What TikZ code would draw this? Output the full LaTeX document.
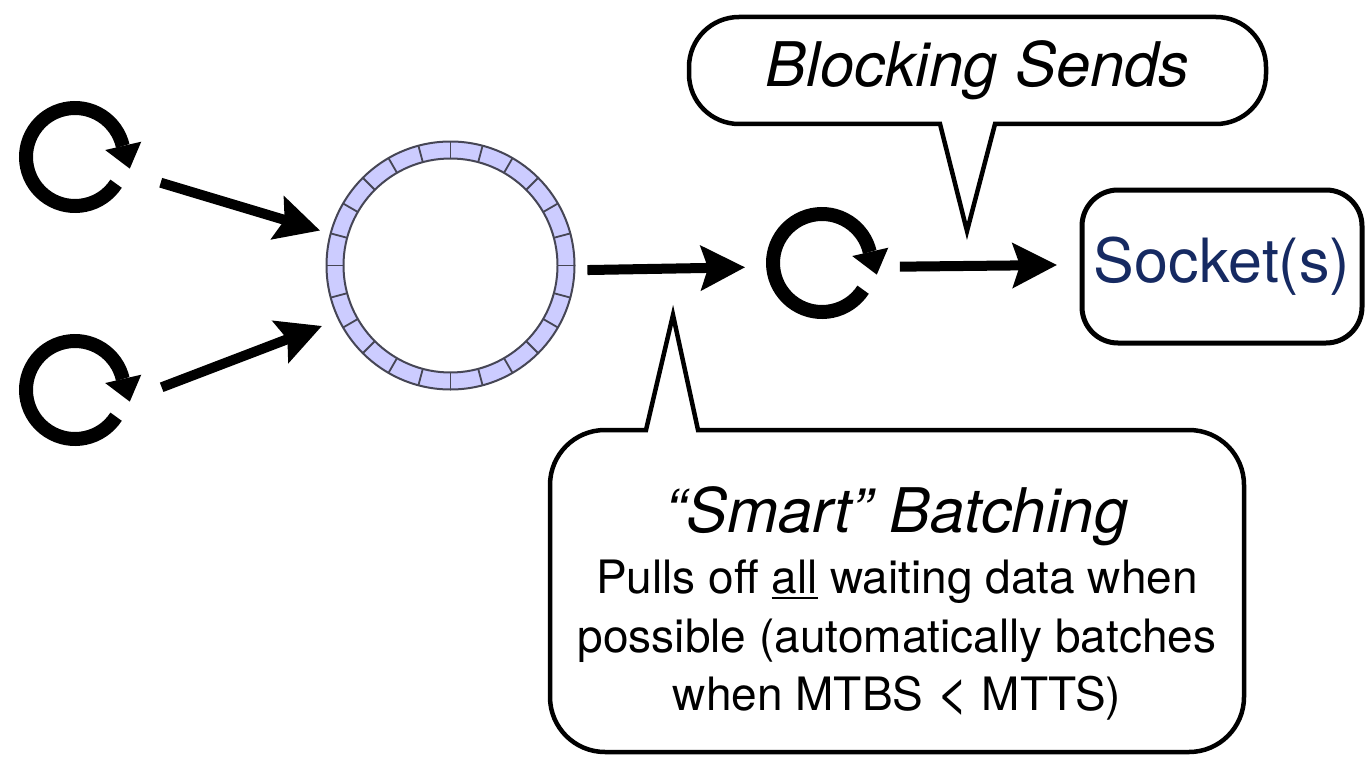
\documentclass[tikz,border=0pt]{standalone}
\usepackage{fontspec}
\setmainfont{TeX Gyre Heros}
\usetikzlibrary{arrows.meta,calc}
\definecolor{ringfill}{RGB}{204,204,255}
\definecolor{ringline}{RGB}{70,70,85}
\definecolor{socknavy}{RGB}{22,42,98}
\newcommand\ulthick[1]{{\setbox0\hbox{#1}\rlap{\rule[-6pt]{\wd0}{2.5pt}}\box0}}
\newcommand\cycicon[1]{%
  \draw[line width=14pt] ($(#1)+(-33:49pt)$) arc[start angle=-33, end angle=-347, radius=49pt];
  \fill ($(#1)+(13:31pt)$) -- ($(#1)+(13:68pt)$) -- ($(#1)+(-12:56pt)$) -- cycle;
}
\begin{document}
\begin{tikzpicture}[x=1pt,y=1pt,
  conn/.style={line width=10pt, -{Stealth[length=44pt,width=44pt,inset=7pt]}},
  callout/.style={line width=4.5pt, line join=miter, fill=white},
  iconnode/.style={circle, minimum size=112pt, inner sep=0pt, outer sep=0pt},
  bigtxt/.style={font=\fontsize{61.5}{70}\selectfont\itshape},
  bodytxt/.style={anchor=base, font=\fontsize{46}{52}\selectfont}]
\useasboundingbox (0,0) rectangle (1367,-757);

% cycle icons
\node[iconnode] (c1) at (75,-157) {};
\node[iconnode] (c2) at (75,-390) {};
\node[iconnode] (c3) at (822,-263) {};
\cycicon{c1}
\cycicon{c2}
\cycicon{c3}

% ring buffer
\node[circle, minimum size=248pt, inner sep=0pt, outer sep=0pt] (ring) at (450.5,-265.5) {};
\fill[ringfill, even odd rule] (ring) circle[radius=124pt] (ring) circle[radius=107pt];
\draw[ringline, line width=2pt] (ring) circle[radius=124pt] (ring) circle[radius=107pt];
\foreach \a in {0,15,...,345}
  \draw[ringline, line width=1.8pt] ($(ring)+(\a:107pt)$) -- ($(ring)+(\a:124pt)$);

% socket
\node[draw, line width=5pt, rounded corners=36pt, minimum width=280pt, minimum height=153pt,
  inner sep=0pt, outer sep=0pt, text=socknavy, font=\fontsize{61}{68}\selectfont] (sock) at (1222,-266.5) {\raisebox{-5pt}{Socket(s)}};

% connectors
\draw[conn] ($(c1)+(-16.7:89.5pt)$) -- ($(ring)+(165:135pt)$);
\draw[conn] ($(c2)+(1.8:86.7pt)$) -- ($(ring)+(205.2:142pt)$);
\draw[conn] ($(ring)+(-1.9:137pt)$) -- ($(c3)+(183.2:77pt)$);
\draw[conn] ($(c3)+(-2.7:78pt)$) -- ($(sock.west)+(-25pt,1.5pt)$);

% Blocking Sends callout
\draw[callout] (940,-124) -- (739,-124) arc[start angle=270, end angle=180, radius=50pt]
  -- (689,-67) arc[start angle=180, end angle=90, radius=50pt]
  -- (1216,-17) arc[start angle=90, end angle=0, radius=50pt]
  -- (1266,-74) arc[start angle=0, end angle=-90, radius=50pt]
  -- (995,-124) -- (967,-231) -- cycle;
\node[bigtxt] (bs) at (977.5,-70.5) {Blocking Sends};

% Smart Batching callout
\draw[callout] (698,-430) -- (1189,-430) arc[start angle=90, end angle=0, radius=55pt]
  -- (1244,-697) arc[start angle=0, end angle=-90, radius=55pt]
  -- (605,-752) arc[start angle=270, end angle=180, radius=55pt]
  -- (550,-485) arc[start angle=180, end angle=90, radius=55pt]
  -- (646,-430) -- (673,-315) -- cycle;
\node[bigtxt, anchor=base] (sb) at (897,-532) {“Smart” Batching};
\node[bodytxt] (l1) at (897,-593) {Pulls off \ulthick{all} waiting data when};
\node[bodytxt] (l2) at (897,-652) {possible (automatically batches};
\node[bodytxt] (l3) at (897,-710) {when MTBS {\fontsize{56}{56}\selectfont\raisebox{-1pt}{<}} MTTS)};
\end{tikzpicture}
\end{document}
